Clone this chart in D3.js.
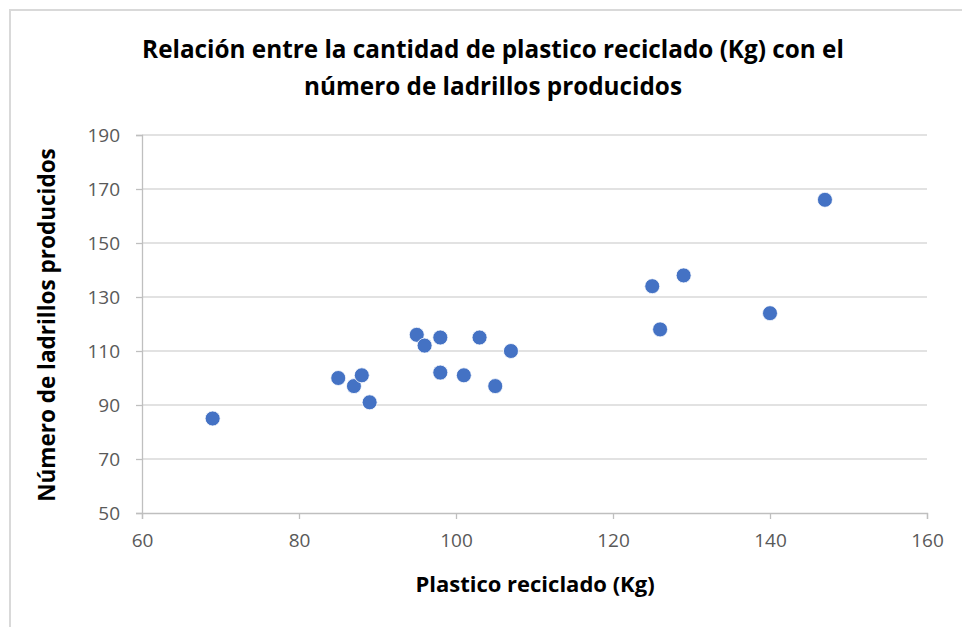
<!DOCTYPE html>
<html lang="es">
	<head>
		<meta charset="utf-8">
		<title>Plastico reciclado vs ladrillos</title>
		<script type="text/javascript" src="https://cdn.jsdelivr.net/npm/d3@7"></script>
		<style type="text/css">
			body { margin: 0; background: #ffffff; }
			svg { display: block; }
			text { font-family: "Open Sans", sans-serif; }
		</style>
	</head>
	<body>
		<script type="text/javascript">

			var width = 962;
			var height = 627;

			// data
			var titleLines = ["Relación entre la cantidad de plastico reciclado (Kg) con el",
			                  "número de ladrillos producidos"];
			var xLabel = "Plastico reciclado (Kg)";
			var yLabel = "Número de ladrillos producidos";

			var plastico   = [69, 85, 87, 88, 89, 95, 96, 98, 98, 101, 103, 105, 107, 125, 126, 129, 140, 147];
			var ladrillos  = [85, 100, 97, 101, 91, 116, 112, 115, 102, 101, 115, 97, 110, 134, 118, 138, 124, 166];

			var xTicks = [60, 80, 100, 120, 140, 160];
			var yTicks = [50, 70, 90, 110, 130, 150, 170, 190];

			var margin = {left: 142, right: 35, top: 135, bottom: 114};

			var svg = d3.select("body")
						.append("svg")
						.attr("width", width)
						.attr("height", height);

			// chart border
			svg.append("path")
				.attr("d", "M10," + height + " V10 H" + width)
				.attr("fill", "none")
				.attr("stroke", "#d9d9d9")
				.attr("stroke-width", 2);

			var xScale = d3.scaleLinear()
				.domain([60, 160])
				.range([margin.left, width - margin.right]);

			var yScale = d3.scaleLinear()
				.domain([50, 190])
				.range([height - margin.bottom, margin.top]);

			// gridlines
			svg.append("g")
				.selectAll("line")
				.data(yTicks.slice(1))
				.enter()
				.append("line")
				.attr("x1", xScale(60))
				.attr("x2", xScale(160))
				.attr("y1", function(d){ return yScale(d); })
				.attr("y2", function(d){ return yScale(d); })
				.attr("stroke", "#d9d9d9")
				.attr("stroke-width", 1.3);

			// axes
			var xAxis = d3.axisBottom(xScale).tickValues(xTicks).tickSize(6).tickPadding(11);
			var yAxis = d3.axisLeft(yScale).tickValues(yTicks).tickSize(6).tickPadding(16);

			var gx = svg.append("g")
				.attr("transform", "translate(0," + yScale(50) + ")")
				.call(xAxis);
			var gy = svg.append("g")
				.attr("transform", "translate(" + xScale(60) + ",0)")
				.call(yAxis);

			[gx, gy].forEach(function(g){
				g.select(".domain").attr("stroke", "#bfbfbf").attr("stroke-width", 1.3);
				g.selectAll(".tick line").attr("stroke", "#bfbfbf").attr("stroke-width", 1.3);
				g.selectAll(".tick text")
					.attr("fill", "#595959")
					.style("font-size", "19px")
					.style("font-family", "\"Open Sans\", sans-serif");
			});
			gx.selectAll(".tick text").attr("dy", "0.9em");

			// points
			svg.append("g")
				.selectAll("circle")
				.data(plastico)
				.enter()
				.append("circle")
				.attr("cx", function(d){ return xScale(d); })
				.attr("cy", function(d, i){ return yScale(ladrillos[i]); })
				.attr("r", 7.5)
				.attr("fill", "#4472c4")
				.attr("stroke", "#ffffff")
				.attr("stroke-width", 0.8);

			// title
			svg.append("g")
				.selectAll("text")
				.data(titleLines)
				.enter()
				.append("text")
				.attr("x", 493)
				.attr("y", function(d, i){ return 58 + i * 37; })
				.attr("text-anchor", "middle")
				.attr("font-weight", "bold")
				.attr("font-size", "24.3px")
				.attr("fill", "#000000")
				.text(function(d){ return d; });

			// axis titles
			svg.append("text")
				.attr("x", 535)
				.attr("y", 592)
				.attr("text-anchor", "middle")
				.attr("font-weight", "bold")
				.attr("font-size", "22px")
				.attr("fill", "#000000")
				.text(xLabel);

			svg.append("text")
				.attr("transform", "translate(55,325) rotate(-90)")
				.attr("text-anchor", "middle")
				.attr("font-weight", "bold")
				.attr("font-size", "22.5px")
				.attr("fill", "#000000")
				.text(yLabel);

		</script>
	</body>
</html>
